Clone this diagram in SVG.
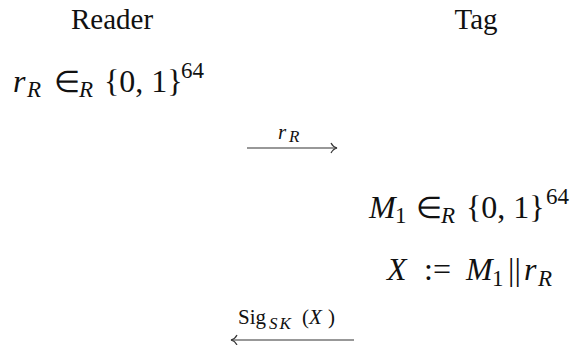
<svg xmlns="http://www.w3.org/2000/svg" width="578" height="345" viewBox="0 0 578 345">
<style>
text{font-family:"Liberation Serif","Times New Roman",serif;fill:#111}
.h{font-size:29px}
.m{font-size:32px}
.i{font-style:italic}
.s{font-size:23px}
.e{font-size:30px}
.l{font-size:21px}
.ss{font-size:17px;letter-spacing:2px}
.ar{stroke:#333;stroke-width:1.2;fill:none}
</style>
<rect width="578" height="345" fill="#fff"/>
<g id="reader">
<text class="h" x="112" y="29" text-anchor="middle">Reader</text>
<text class="m" y="92"><tspan class="i" x="13">r</tspan><tspan class="i s" x="27" y="97">R</tspan><tspan class="e" x="54" y="92">∈</tspan><tspan class="i s" x="79" y="97">R</tspan><tspan x="104" y="92">{0, 1}</tspan><tspan class="s" x="181" y="78">64</tspan></text>
</g>
<g id="tag">
<text class="h" x="476" y="29" text-anchor="middle">Tag</text>
<text class="m" y="218"><tspan class="i" x="369">M</tspan><tspan class="s" x="395" y="223">1</tspan><tspan class="e" x="416" y="218">∈</tspan><tspan class="i s" x="441" y="223">R</tspan><tspan x="466" y="218">{0, 1}</tspan><tspan class="s" x="546" y="204">64</tspan></text>
<text class="m" y="280"><tspan class="i" x="387">X</tspan><tspan x="424">:=</tspan><tspan class="i" x="466">M</tspan><tspan class="s" x="492" y="286">1</tspan><tspan x="508" y="280">||</tspan><tspan class="i" x="524">r</tspan><tspan class="i s" x="538" y="286">R</tspan></text>
</g>
<g id="connectors">
<line class="ar" x1="247" y1="148" x2="337" y2="148"/>
<path class="ar" d="M331,143 Q333,147 337,148 Q333,149 331,153"/>
<text class="l" y="139"><tspan class="i" x="278">r</tspan><tspan class="i ss" x="289" y="142">R</tspan></text>
<line class="ar" x1="231" y1="340" x2="354" y2="340"/>
<path class="ar" d="M237,335 Q235,339 231,340 Q235,341 237,345"/>
<text class="l" y="324"><tspan x="238">Sig</tspan><tspan class="i ss" x="269" y="329">SK</tspan><tspan x="302" y="324">(</tspan><tspan class="i" x="309">X</tspan><tspan x="328">)</tspan></text>
</g>
</svg>
